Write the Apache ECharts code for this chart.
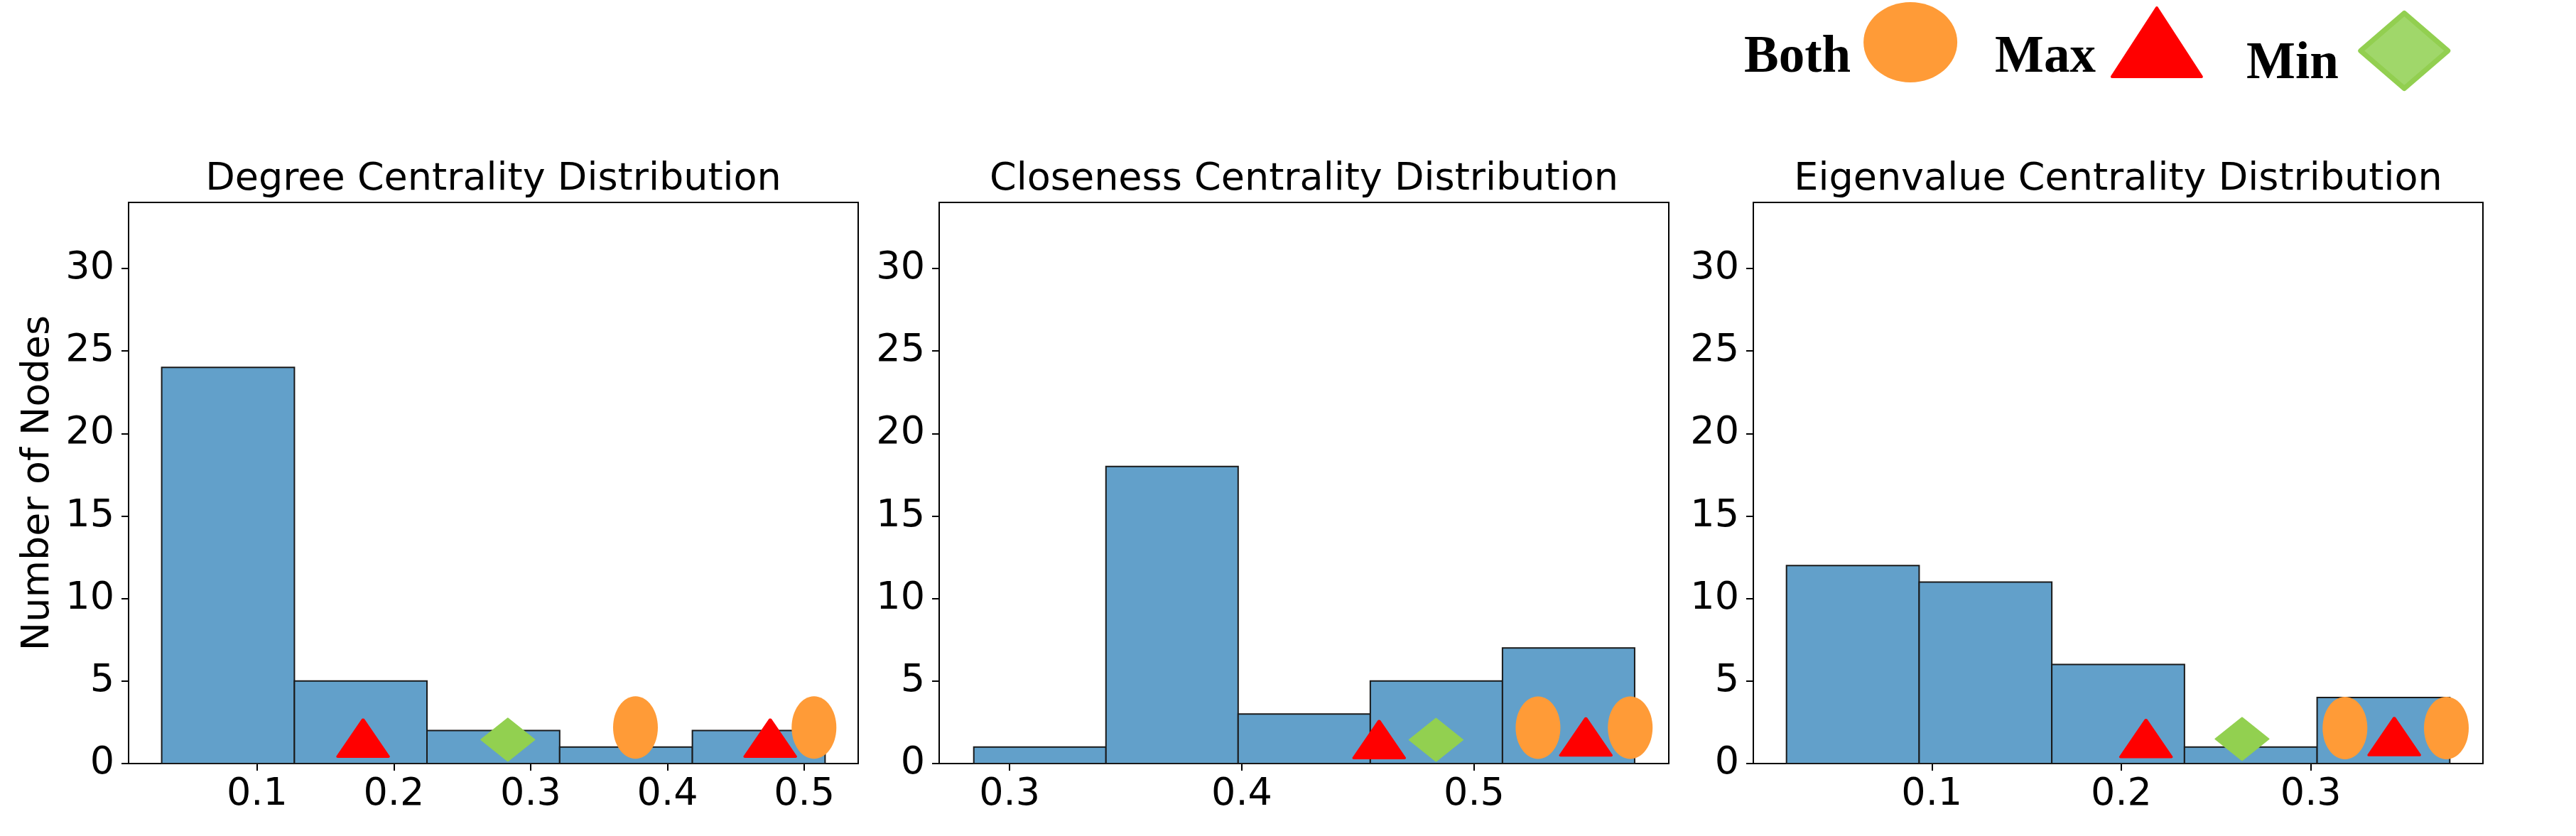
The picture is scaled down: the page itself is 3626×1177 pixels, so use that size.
<!DOCTYPE html>
<html>
<head>
<meta charset="utf-8">
<script src="https://cdn.jsdelivr.net/npm/echarts@6/dist/echarts.min.js"></script>
<style>
html,body{margin:0;padding:0;background:#ffffff;}
#chart{width:3626px;height:1177px;}
</style>
</head>
<body>
<div id="chart"></div>
<script>
// ---------------- data ----------------
const titles = ['Degree Centrality Distribution', 'Closeness Centrality Distribution', 'Eigenvalue Centrality Distribution'];
const yAxisName = 'Number of Nodes';
const legendNames = ['Both', 'Max', 'Min'];

const yTicks = [0, 5, 10, 15, 20, 25, 30];
const yMax = 34;

const degreeTicks = [0.1, 0.2, 0.3, 0.4, 0.5];
const closenessTicks = [0.3, 0.4, 0.5];
const eigenTicks = [0.1, 0.2, 0.3];

const degreeRange = [0.0061, 0.5394];
const closenessRange = [0.2697, 0.5838];
const eigenRange = [0.0058, 0.3908];

// histogram bin edges and counts
const degreeEdges = [0.0303, 0.1273, 0.2242, 0.3212, 0.4182, 0.5152];
const degreeCounts = [24, 5, 2, 1, 2];
const closenessEdges = [0.2846, 0.3415, 0.3984, 0.4553, 0.5122, 0.5691];
const closenessCounts = [1, 18, 3, 5, 7];
const eigenEdges = [0.0233, 0.0933, 0.1633, 0.2333, 0.3033, 0.3733];
const eigenCounts = [12, 11, 6, 1, 4];

// highlighted nodes [x, y]
const degreeMax = [[0.1775, 1.54], [0.4751, 1.54]];
const degreeMin = [[0.2833, 1.45]];
const degreeBoth = [[0.3766, 2.18], [0.5071, 2.18]];
const closenessMax = [[0.4591, 1.45], [0.5481, 1.61]];
const closenessMin = [[0.4836, 1.44]];
const closenessBoth = [[0.5275, 2.17], [0.5672, 2.17]];
const eigenMax = [[0.2130, 1.52], [0.3440, 1.63]];
const eigenMin = [[0.2637, 1.49]];
const eigenBoth = [[0.3180, 2.15], [0.3715, 2.15]];

// ---------------- build ----------------
const FONT = 'DejaVu Sans';
const ELLIPSE = 'path://M0,-1C0.5523,-1,1,-0.5523,1,0C1,0.5523,0.5523,1,0,1C-0.5523,1,-1,0.5523,-1,0C-1,-0.5523,-0.5523,-1,0,-1Z';

const panels = [
  {edges: degreeEdges, counts: degreeCounts, ticks: degreeTicks, range: degreeRange, max: degreeMax, min: degreeMin, both: degreeBoth},
  {edges: closenessEdges, counts: closenessCounts, ticks: closenessTicks, range: closenessRange, max: closenessMax, min: closenessMin, both: closenessBoth},
  {edges: eigenEdges, counts: eigenCounts, ticks: eigenTicks, range: eigenRange, max: eigenMax, min: eigenMin, both: eigenBoth}
];

const gridLefts = [181, 1322, 2468];
const gridWidth = 1027;
const gridTop = 285;
const gridHeight = 790;

function renderBar(params, api) {
  const x0 = api.value(0), x1 = api.value(1), c = api.value(2);
  const p0 = api.coord([x0, c]);
  const p1 = api.coord([x1, 0]);
  return {
    type: 'rect',
    shape: {x: p0[0], y: p0[1], width: p1[0] - p0[0], height: p1[1] - p0[1]},
    style: {fill: '#62A0CA', stroke: '#1a1a1a', lineWidth: 2}
  };
}

const grid = [], xAxis = [], yAxis = [], series = [], title = [];

panels.forEach((p, i) => {
  grid.push({left: gridLefts[i], top: gridTop, width: gridWidth, height: gridHeight,
             show: true, borderColor: '#000', borderWidth: 2, backgroundColor: 'transparent', containLabel: false});
  title.push({text: titles[i], left: gridLefts[i] + gridWidth / 2, top: 226, textAlign: 'center', textVerticalAlign: 'top', padding: 0,
              textStyle: {fontFamily: FONT, fontSize: 54, lineHeight: 54, fontWeight: 'normal', color: '#000'}});
  xAxis.push({type: 'value', gridIndex: i, min: p.range[0], max: p.range[1],
              splitLine: {show: false},
              axisLine: {show: true, onZero: false, lineStyle: {color: '#000', width: 2}},
              axisTick: {show: true, length: 10, lineStyle: {color: '#000', width: 2}, customValues: p.ticks},
              axisLabel: {show: true, margin: 17, fontFamily: FONT, fontSize: 54, lineHeight: 54, color: '#000', customValues: p.ticks,
                          formatter: v => String(v)}});
  const ya = {type: 'value', gridIndex: i, min: 0, max: yMax,
              splitLine: {show: false},
              axisLine: {show: true, lineStyle: {color: '#000', width: 2}},
              axisTick: {show: true, length: 10, lineStyle: {color: '#000', width: 2}, customValues: yTicks},
              axisLabel: {show: true, margin: 20, fontFamily: FONT, fontSize: 54, lineHeight: 54, color: '#000', customValues: yTicks}};
  if (i === 0) {
    ya.name = yAxisName;
    ya.nameLocation = 'middle';
    ya.nameGap = 100;
    ya.nameTextStyle = {fontFamily: FONT, fontSize: 54, lineHeight: 54, color: '#000'};
  }
  yAxis.push(ya);

  const bins = p.counts.map((c, k) => [p.edges[k], p.edges[k + 1], c]);
  series.push({type: 'custom', name: 'hist' + i, xAxisIndex: i, yAxisIndex: i, data: bins,
               encode: {x: [0, 1], y: 2}, renderItem: renderBar, silent: true, z: 2});
  series.push({type: 'scatter', name: 'Max', xAxisIndex: i, yAxisIndex: i, data: p.max, symbol: 'triangle', symbolSize: [71, 52],
               itemStyle: {color: '#FF0000', borderColor: '#FF0000', borderWidth: 4, borderJoin: 'round', opacity: 1}, z: 3, silent: true});
  series.push({type: 'scatter', name: 'Min', xAxisIndex: i, yAxisIndex: i, data: p.min, symbol: 'diamond', symbolSize: [75, 60],
               itemStyle: {color: '#92D050', borderColor: '#92D050', borderWidth: 2, borderJoin: 'round', opacity: 1}, z: 3, silent: true});
  series.push({type: 'scatter', name: 'Both', xAxisIndex: i, yAxisIndex: i, data: p.both, symbol: ELLIPSE, symbolSize: [63, 88],
               itemStyle: {color: '#FF9B37', opacity: 1}, z: 3, silent: true});
});

function legendTextStyle(pad) {
  const base = {fontFamily: 'Liberation Serif', fontWeight: 'bold', fontSize: 73, lineHeight: 73, color: '#000'};
  return Object.assign({}, base, {rich: {t: Object.assign({}, base, {padding: pad})}});
}
const legend = [
  {data: [{name: legendNames[0], icon: ELLIPSE, itemStyle: {color: '#FF9B37', borderWidth: 0}}],
   left: 2455, top: 0, align: 'right', orient: 'horizontal', itemWidth: 132, itemHeight: 113, symbolKeepAspect: false,
   padding: 0, selectedMode: false, formatter: '{t|{name}}', textStyle: legendTextStyle([46, 13, 0, 0])},
  {data: [{name: legendNames[1], icon: 'triangle', itemStyle: {color: '#FF0000', borderColor: '#FF0000', borderWidth: 4, borderJoin: 'round'}}],
   left: 2808, top: 0, align: 'right', orient: 'horizontal', itemWidth: 126, itemHeight: 97, symbolKeepAspect: false,
   padding: 0, selectedMode: false, formatter: '{t|{name}}', textStyle: legendTextStyle([46, 18, 0, 0])},
  {data: [{name: legendNames[2], icon: 'diamond', itemStyle: {color: '#A0D76A', borderColor: '#92CF50', borderWidth: 7, borderJoin: 'round'}}],
   left: 3162, top: 15, align: 'right', orient: 'horizontal', itemWidth: 123, itemHeight: 106, symbolKeepAspect: false,
   padding: 0, selectedMode: false, formatter: '{t|{name}}', textStyle: legendTextStyle([39, 26, 0, 0])}
];

const chart = echarts.init(document.getElementById('chart'), null, {renderer: 'canvas'});
chart.setOption({
  animation: false,
  backgroundColor: '#ffffff',
  title: title,
  legend: legend,
  grid: grid,
  xAxis: xAxis,
  yAxis: yAxis,
  series: series
});
</script>
</body>
</html>
